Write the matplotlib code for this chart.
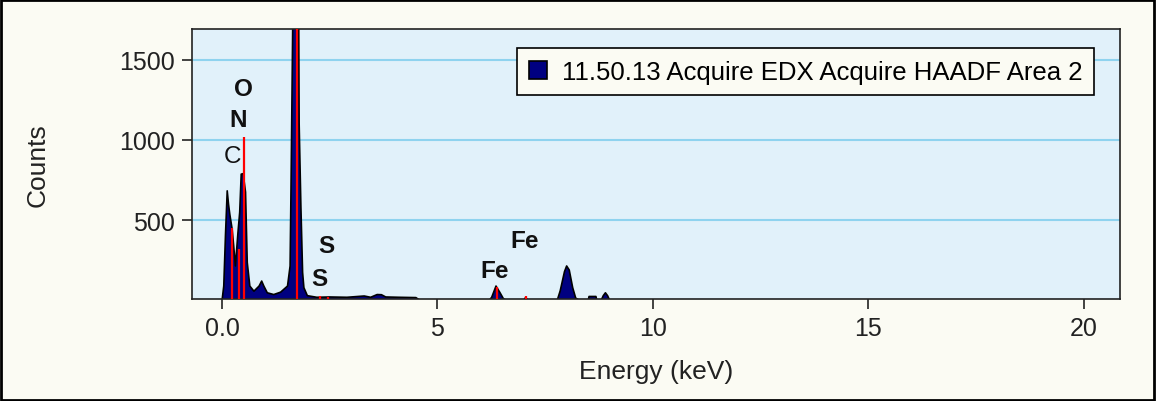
import matplotlib.pyplot as plt
from matplotlib.patches import Rectangle

# spectrum (energy in keV, counts)
energy = [0.0, 0.04, 0.08, 0.12, 0.15, 0.18, 0.235, 0.27, 0.31, 0.37, 0.41, 0.445,
          0.49, 0.545, 0.585, 0.645, 0.74, 0.86, 0.92, 0.97, 1.05, 1.2, 1.36, 1.52,
          1.58, 1.6, 1.63, 1.69, 1.76, 1.79, 1.83, 1.87, 1.9, 1.98, 2.2, 2.5, 2.9,
          3.3, 3.45, 3.6, 3.7, 3.8, 4.1, 4.5, 4.6, 6.2, 6.26, 6.36, 6.45, 6.53, 6.6,
          7.0, 7.05, 7.1, 7.78, 7.85, 7.95, 8.0, 8.06, 8.14, 8.21, 8.3, 8.5, 8.52,
          8.68, 8.7, 8.8, 8.85, 8.9, 8.95, 9.0, 21.0]
counts = [0, 90, 410, 683, 600, 537, 443, 340, 215, 425, 550, 787,
          790, 675, 237, 90, 58, 90, 121, 90, 48, 37, 52, 90,
          215, 673, 1433, 3000, 3000, 1100, 590, 175, 80, 30, 20, 22, 20,
          28, 20, 37, 36, 22, 20, 18, 0, 0, 20, 90, 50, 12, 0,
          0, 20, 0, 0, 60, 180, 215, 190, 80, 15, 0, 0, 25,
          25, 0, 0, 30, 48, 30, 0, 0]

# element marker lines
line_energy = [0.24, 0.39, 0.52, 1.73, 2.27, 2.45, 6.38, 7.05]
line_height = [450, 318, 1018, 3000, 28, 22, 85, 31]

# peak labels: text, energy, counts, bold
labels = ["O", "N", "C", "S", "S", "Fe", "Fe"]
label_x = [0.50, 0.38, 0.24, 2.43, 2.25, 7.03, 6.33]
label_y = [1319, 1125, 900, 344, 137, 375, 187]
label_bold = [True, True, False, True, True, True, True]

series_name = "11.50.13 Acquire EDX Acquire HAADF Area 2"
xticks = [0, 5, 10, 15, 20]
xtick_labels = ["0.0", "5", "10", "15", "20"]
yticks = [500, 1000, 1500]

plt.rcParams["font.family"] = ["Liberation Sans", "DejaVu Sans"]

fig = plt.figure(figsize=(11.56, 4.02), dpi=100, facecolor="#fbfbf3")
ax = fig.add_axes([0.166, 0.254, 0.803, 0.671])
ax.set_facecolor("#e1f1fa")

fig.patches.append(Rectangle((0.001, 0.002), 0.997, 0.995, transform=fig.transFigure,
                             fill=False, edgecolor="black", lw=2))

for y in yticks:
    ax.axhline(y, color="#8fd3ef", lw=1.5, zorder=1)

ax.fill_between(energy, counts, 0, color="#000080", edgecolor="black", lw=1.2,
                zorder=2, label=series_name)
ax.vlines(line_energy, 0, line_height, color="red", lw=1.6, zorder=3)

for t, x, y, b in zip(labels, label_x, label_y, label_bold):
    ax.text(x, y, t, ha="center", va="center", fontsize=17.5,
            fontweight="bold" if b else "normal", color="#111111", zorder=4)

ax.set_xlim(-0.7, 20.85)
ax.set_ylim(10, 1690)
ax.set_xticks(xticks)
ax.set_xticklabels(xtick_labels)
ax.set_yticks(yticks)
ax.tick_params(direction="out", length=7, width=1.2, labelsize=18, colors="#222222", pad=5)
for s in ax.spines.values():
    s.set_color("#222222")
    s.set_linewidth(1.2)

ax.set_xlabel("Energy (keV)", fontsize=19, color="#222222", labelpad=14)
ax.set_ylabel("Counts", fontsize=19, color="#222222", labelpad=50)

leg = ax.legend(loc="upper right", bbox_to_anchor=(0.972, 0.93), fontsize=18.5,
                frameon=True, fancybox=False, edgecolor="black", facecolor="#fbfbf3",
                framealpha=1, handlelength=0.7, handleheight=0.7, borderpad=0.45,
                handletextpad=0.6, borderaxespad=0)
leg.get_frame().set_linewidth(1.2)

fig.savefig("out.png", dpi=100, facecolor=fig.get_facecolor())
